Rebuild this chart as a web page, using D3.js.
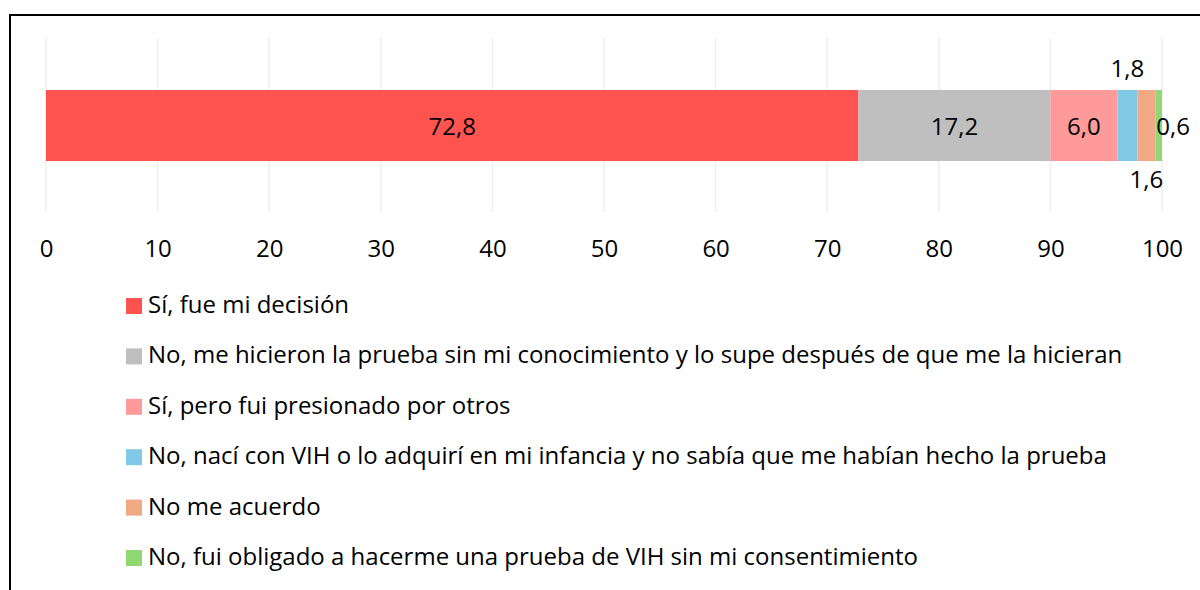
<!DOCTYPE html>
<html>
<head>
<meta charset="utf-8">
<script src="https://cdn.jsdelivr.net/npm/d3@7"></script>
<style>
  body { margin: 0; background: #fff; }
  svg text { font-family: "Open Sans", "Noto Sans", sans-serif; fill: #000; }
</style>
</head>
<body>
<svg id="chart"></svg>
<script>
const categories = [
  'Sí, fue mi decisión',
  'No, me hicieron la prueba sin mi conocimiento y lo supe después de que me la hicieran',
  'Sí, pero fui presionado por otros',
  'No, nací con VIH o lo adquirí en mi infancia y no sabía que me habían hecho la prueba',
  'No me acuerdo',
  'No, fui obligado a hacerme una prueba de VIH sin mi consentimiento'
];
const values = [72.8, 17.2, 6.0, 1.8, 1.6, 0.6];
const colors = ['#FF5350', '#BFBFBF', '#FF9A9A', '#80CAE8', '#F0A982', '#8FD873'];
const tickValues = [0, 10, 20, 30, 40, 50, 60, 70, 80, 90, 100];
const labelPlacement = ['inside', 'inside', 'inside', 'above', 'below', 'right'];

const width = 1200;
const height = 590;

const svg = d3.select('#chart')
  .attr('width', width)
  .attr('height', height);

// frame
svg.append('path')
  .attr('d', 'M10,600 V15 H1210')
  .attr('fill', 'none')
  .attr('stroke', '#000')
  .attr('stroke-width', 2);

const x = d3.scaleLinear().domain([0, 100]).range([46, 1162]);
const barTop = 90;
const barHeight = 71;

// gridlines
svg.append('g')
  .selectAll('line')
  .data(tickValues)
  .enter().append('line')
  .attr('x1', d => x(d))
  .attr('x2', d => x(d))
  .attr('y1', 38)
  .attr('y2', 212)
  .attr('stroke', '#EFEFEF')
  .attr('stroke-width', 1.5);

// x axis labels
const xAxis = d3.axisBottom(x)
  .tickValues(tickValues)
  .tickSize(0)
  .tickPadding(0)
  .tickFormat(d => d);

const axisG = svg.append('g')
  .attr('transform', 'translate(0,257)')
  .call(xAxis);
axisG.select('.domain').remove();
axisG.selectAll('text')
  .style('font-size', '24px')
  .attr('y', 0)
  .attr('dy', 0);

// stacked segments
const stacked = [];
let acc = 0;
values.forEach((v, i) => {
  stacked.push({ start: acc, end: acc + v, value: v, color: colors[i], place: labelPlacement[i] });
  acc += v;
});

svg.append('g')
  .selectAll('rect')
  .data(stacked)
  .enter().append('rect')
  .attr('x', d => x(d.start))
  .attr('y', barTop)
  .attr('width', d => x(d.end) - x(d.start))
  .attr('height', barHeight)
  .attr('fill', d => d.color);

const fmt = v => v.toFixed(1).replace('.', ',');

svg.append('g')
  .selectAll('text')
  .data(stacked)
  .enter().append('text')
  .attr('x', d => {
    if (d.place === 'right') return x(d.start) + 1;
    return (x(d.start) + x(d.end)) / 2;
  })
  .attr('y', d => {
    if (d.place === 'above') return barTop - 13;
    if (d.place === 'below') return barTop + barHeight + 27;
    return barTop + barHeight / 2 + 9;
  })
  .attr('text-anchor', d => d.place === 'right' ? 'start' : 'middle')
  .style('font-size', '24px')
  .text(d => fmt(d.value));

// legend
const legend = svg.append('g')
  .selectAll('g')
  .data(categories)
  .enter().append('g')
  .attr('transform', (d, i) => `translate(126, ${313 + i * 50.4})`);

legend.append('rect')
  .attr('x', 0)
  .attr('y', -15)
  .attr('width', 16)
  .attr('height', 16)
  .attr('fill', (d, i) => colors[i]);

legend.append('text')
  .attr('x', 22)
  .style('font-size', '24px')
  .text(d => d);
</script>
</body>
</html>
